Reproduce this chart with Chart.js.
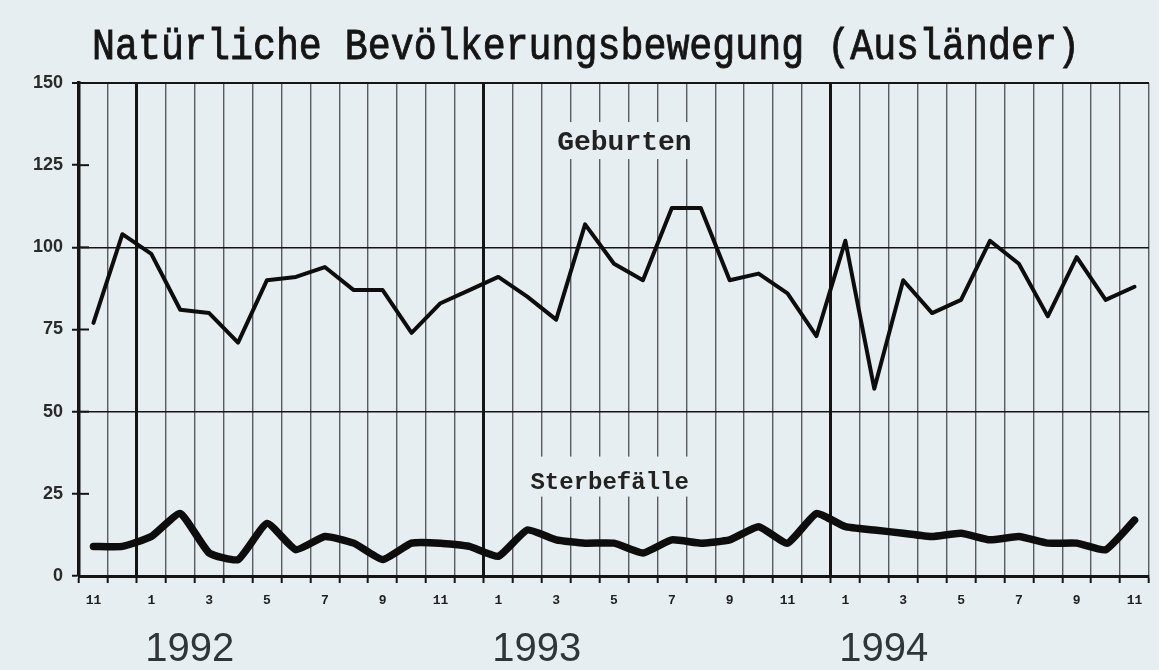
<!DOCTYPE html>
<html lang="de">
<head>
<meta charset="utf-8">
<title>Natürliche Bevölkerungsbewegung (Ausländer)</title>
<script src="https://cdn.jsdelivr.net/npm/chart.js@4.4.1/dist/chart.umd.min.js"></script>
<style>
  html, body { margin: 0; padding: 0; background: #e6eef1; overflow: hidden; }
  #wrap { width: 1159px; height: 670px; position: relative; }
</style>
</head>
<body>
<div id="wrap"><canvas id="chart"></canvas></div>
<script>
// --- Daten: Monate Nov 1991 bis Nov 1994 ---
const monate = [11, 12, 1, 2, 3, 4, 5, 6, 7, 8, 9, 10, 11, 12,
                1, 2, 3, 4, 5, 6, 7, 8, 9, 10, 11, 12,
                1, 2, 3, 4, 5, 6, 7, 8, 9, 10, 11];
const jahre = ['1992', '1993', '1994'];
const geburten = [77, 104, 98, 81, 80, 71, 90, 91, 94, 87, 87, 74, 83, 87,
                  91, 85, 78, 107, 95, 90, 112, 112, 90, 92, 86, 73,
                  102, 57, 90, 80, 84, 102, 95, 79, 97, 84, 88];
const sterbefaelle = [9, 9, 12, 19, 7, 5, 16, 8, 12, 10, 5, 10, 10, 9,
                      6, 14, 11, 10, 10, 7, 11, 10, 11, 15, 10, 19,
                      15, 14, 13, 12, 13, 11, 12, 10, 10, 8, 17];
const yTicks = [0, 25, 50, 75, 100, 125, 150];
const titel = 'Natürliche Bevölkerungsbewegung (Ausländer)';
const serienNamen = ['Geburten', 'Sterbefälle'];

const BG = '#e6eef1';
const INK = '#151515';

// Titel, Jahreszahlen, Serienbeschriftungen und innere Achsenstriche
const dekor = {
    id: 'dekor',
    afterDraw(chart) {
        const { ctx, chartArea: a } = chart;
        const x = chart.scales.x, y = chart.scales.y;
        ctx.save();

        // kurze Striche rechts der y-Achse
        ctx.strokeStyle = INK;
        ctx.lineWidth = 2;
        yTicks.forEach(v => {
            const py = y.getPixelForValue(v);
            ctx.beginPath();
            ctx.moveTo(a.left, py);
            ctx.lineTo(a.left + 10, py);
            ctx.stroke();
        });

        // Serienbeschriftungen mit Hintergrund (unterbricht das Gitter)
        const schilder = [
            { text: serienNamen[0], xi: 18.36, v: 129.6, font: 'bold 28px "Liberation Mono"', padX: 12, up: 28, down: 9 },
            { text: serienNamen[1], xi: 17.85, v: 26.6, font: 'bold 24px "Liberation Mono"', padX: 11, up: 32, down: 8 }
        ];
        schilder.forEach(s => {
            const px = x.getPixelForValue(s.xi);
            const py = y.getPixelForValue(s.v);
            ctx.font = s.font;
            const w = ctx.measureText(s.text).width;
            ctx.fillStyle = BG;
            ctx.fillRect(px - w / 2 - s.padX, py - s.up, w + 2 * s.padX, s.up + s.down);
            ctx.fillStyle = '#222';
            ctx.textAlign = 'center';
            ctx.textBaseline = 'alphabetic';
            ctx.fillText(s.text, px, py);
        });

        // Jahreszahlen unter der Achse
        const janIdx = monate.map((m, i) => m === 1 ? i : -1).filter(i => i >= 0);
        ctx.font = '40px "Liberation Sans"';
        ctx.fillStyle = '#30353a';
        ctx.textAlign = 'center';
        janIdx.forEach((i, k) => {
            ctx.fillText(jahre[k], x.getPixelForValue(i + 1.33), 661);
        });

        // Titel (Schreibmaschinenschrift, leicht schmaler und kräftiger)
        ctx.fillStyle = INK;
        ctx.strokeStyle = INK;
        ctx.lineWidth = 0.9;
        ctx.font = '44px "Liberation Mono"';
        ctx.translate(586, 59);
        ctx.scale(0.87, 1);
        ctx.fillText(titel, 0, 0);
        ctx.strokeText(titel, 0, 0);
        ctx.restore();
    }
};

new Chart(document.getElementById('chart'), {
    type: 'line',
    data: {
        labels: monate.map(String),
        datasets: [{
            label: serienNamen[0],
            data: geburten,
            borderColor: '#0d0d0d',
            borderWidth: 4,
            pointRadius: 0,
            tension: 0,
            borderJoinStyle: 'round',
            borderCapStyle: 'round'
        }, {
            label: serienNamen[1],
            data: sterbefaelle,
            borderColor: '#0d0d0d',
            borderWidth: 7.5,
            pointRadius: 0,
            tension: 0.15,
            borderJoinStyle: 'round',
            borderCapStyle: 'round'
        }]
    },
    options: {
        responsive: true,
        maintainAspectRatio: false,
        animation: false,
        layout: { padding: { top: 83, right: 10, left: 0, bottom: 0 } },
        plugins: {
            legend: { display: false },
            title: { display: false },
            tooltip: { enabled: false }
        },
        scales: {
            x: {
                offset: true,
                afterFit: s => { s.height = 94; },
                grid: {
                    offset: true,
                    color: c => monate[c.index] === 1 ? INK : 'rgba(35,35,40,0.72)',
                    lineWidth: c => monate[c.index] === 1 ? 3 : 1.4,
                    tickColor: INK,
                    tickLength: 7,
                    tickWidth: 2
                },
                border: { display: true, color: INK, width: 3 },
                ticks: {
                    autoSkip: false,
                    maxRotation: 0,
                    padding: 10,
                    color: '#1e1e1e',
                    font: { family: 'Liberation Mono', size: 13, weight: 'bold' },
                    callback: (v, i) => i % 2 === 0 ? String(monate[i]) : ''
                }
            },
            y: {
                min: 0,
                max: 150,
                afterFit: s => { s.width = 79; },
                afterBuildTicks: s => { s.ticks = yTicks.map(v => ({ value: v })); },
                grid: {
                    color: c => c.tick && c.tick.value % 50 === 0 ? INK : 'rgba(0,0,0,0)',
                    lineWidth: c => c.tick && c.tick.value === 150 ? 2 : 1.5,
                    tickColor: INK,
                    tickLength: 7,
                    tickWidth: 2
                },
                border: { display: true, color: INK, width: 3.5 },
                ticks: {
                    padding: 9,
                    color: '#2a2a2a',
                    font: { family: 'Liberation Sans', size: 18, weight: 'bold' }
                }
            }
        }
    },
    plugins: [dekor]
});
</script>
</body>
</html>
